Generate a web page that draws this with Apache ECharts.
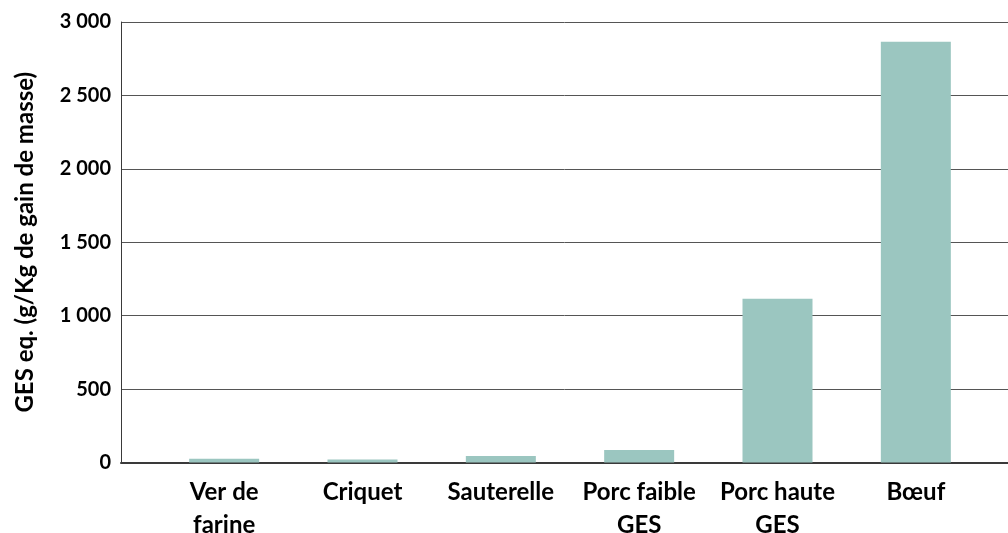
<!DOCTYPE html>
<html>
<head>
<meta charset="utf-8">
<script src="https://cdn.jsdelivr.net/npm/echarts@6/dist/echarts.min.js"></script>
<style>
  html, body { margin: 0; padding: 0; background: #fff; }
  #chart { width: 1008px; height: 533px; }
</style>
</head>
<body>
<div id="chart"></div>
<script>
// categories and values (g eq. GES / kg de gain de masse)
var categories = ['Ver de\nfarine', 'Criquet', 'Sauterelle', 'Porc faible\nGES', 'Porc haute\nGES', 'Bœuf']
var values = [25, 20, 45, 85, 1115, 2865]
var yMin = 0
var yMax = 3000
var yStep = 500

var font = 'Lato, "Open Sans", sans-serif'

function fmt (v) {
  // "3 000" style thousands separator
  if (v >= 1000) {
    var r = String(v % 1000)
    while (r.length < 3) r = '0' + r
    return Math.floor(v / 1000) + ' ' + r
  }
  return String(v)
}

var chart = echarts.init(document.getElementById('chart'))
var option = {
  animation: false,
  backgroundColor: '#fff',
  grid: [
    // frame grid: y axis, gridlines, baseline
    { left: 121, right: 0, top: 22, bottom: 70.5, containLabel: false, outerBoundsMode: 'none' },
    // bars grid
    { left: 155, right: 23, top: 22, bottom: 70.5, containLabel: false, outerBoundsMode: 'none' }
  ],
  xAxis: [
    {
      type: 'value',
      gridIndex: 0,
      min: 0,
      max: 1,
      axisLabel: { show: false },
      axisTick: { show: false },
      splitLine: { show: false },
      axisLine: { show: true, lineStyle: { color: '#3a3a3a', width: 2 } }
    },
    {
      type: 'category',
      gridIndex: 1,
      data: categories,
      axisLine: { show: false },
      axisTick: { show: false },
      axisLabel: {
        interval: 0,
        margin: 13,
        color: '#000',
        fontFamily: font,
        fontWeight: 'bold',
        fontSize: 24,
        lineHeight: 33
      }
    }
  ],
  yAxis: [
    {
      type: 'value',
      gridIndex: 0,
      min: yMin,
      max: yMax,
      interval: yStep,
      name: 'GES eq. (g/Kg de gain de masse)',
      nameLocation: 'middle',
      nameGap: 84,
      nameTextStyle: {
        color: '#000',
        fontFamily: font,
        fontWeight: 'bold',
        fontSize: 24
      },
      axisLine: { show: true, lineStyle: { color: '#3a3a3a', width: 1 } },
      axisTick: { show: false },
      axisLabel: {
        formatter: fmt,
        margin: 10,
        color: '#000',
        fontFamily: font,
        fontWeight: 'bold',
        fontSize: 20
      },
      splitLine: { show: true, lineStyle: { color: '#555', width: 1 } }
    },
    {
      type: 'value',
      gridIndex: 1,
      min: yMin,
      max: yMax,
      interval: yStep,
      show: false,
      splitLine: { show: false }
    }
  ],
  series: [
    {
      type: 'bar',
      xAxisIndex: 1,
      yAxisIndex: 1,
      data: values,
      barWidth: 70,
      itemStyle: { color: '#9bc6c0' }
    }
  ]
}
chart.setOption(option)
</script>
</body>
</html>
